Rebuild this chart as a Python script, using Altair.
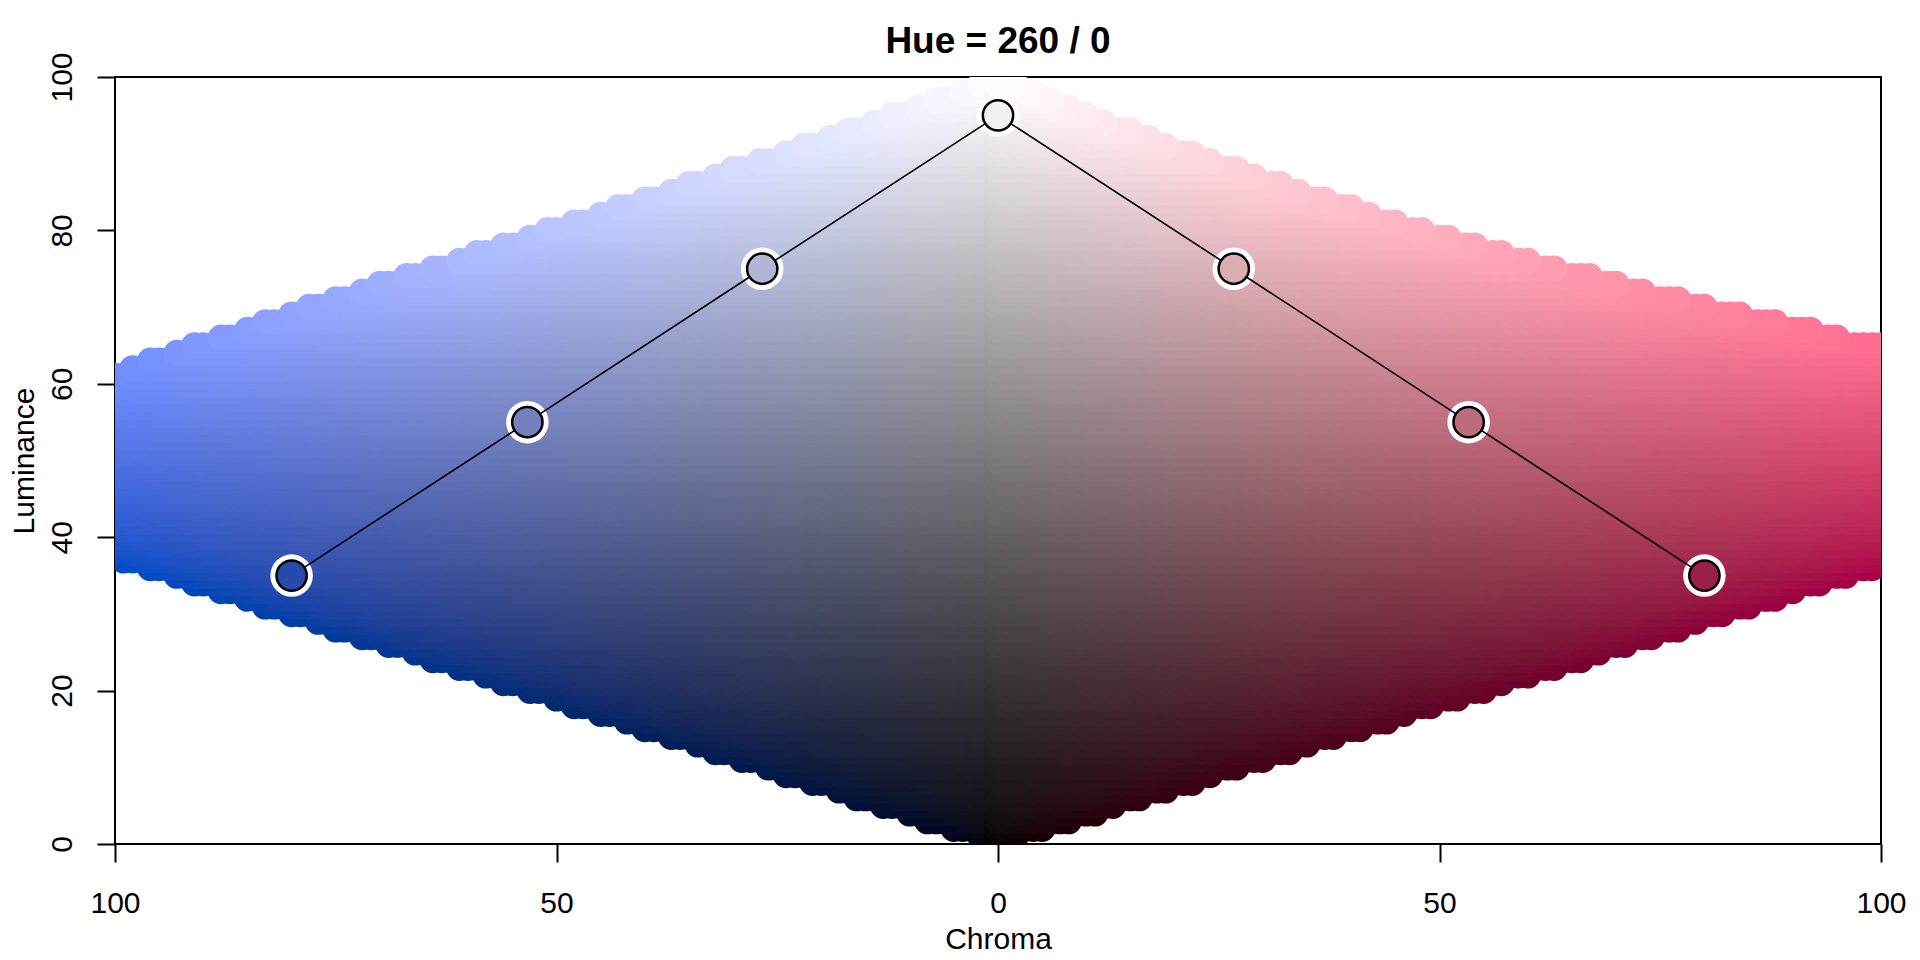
import numpy as np
import pandas as pd
import altair as alt

# ---------------- data ----------------
hues = [260, 0]                      # left hue, right hue
chroma_grid = np.arange(0, 101, 1.0)
lum_grid = np.arange(0, 101, 1.0)

point_chroma = [80, 53.3, 26.7, 0, 26.7, 53.3, 80]
point_lum = [35, 55, 75, 95, 75, 55, 35]
point_hue = [260, 260, 260, 260, 0, 0, 0]
point_side = [-1, -1, -1, 1, 1, 1, 1]

x_ticks = [-100, -50, 0, 50, 100]
y_ticks = [0, 20, 40, 60, 80, 100]
title_text = "Hue = 260 / 0"


# ---------------- HCL (polarLUV) -> sRGB ----------------
def hcl_to_rgb(L, C, H):
    L = np.asarray(L, float); C = np.asarray(C, float); H = np.asarray(H, float)
    Xn, Yn, Zn = 95.047, 100.0, 108.883
    h = np.deg2rad(H)
    U = C * np.cos(h)
    V = C * np.sin(h)
    Y = np.where(L > 7.999592, Yn * ((L + 16) / 116) ** 3, Yn * L / 903.3)
    t = Xn + Yn + Zn
    x = Xn / t
    y = Yn / t
    uN = 2 * x / (6 * y - x + 1.5)
    vN = 4.5 * y / (6 * y - x + 1.5)
    with np.errstate(divide="ignore", invalid="ignore"):
        u = U / (13 * L) + uN
        v = V / (13 * L) + vN
        X = 9.0 * Y * u / (4 * v)
        Z = -X / 3 - 5 * Y + 3 * Y / v
    X = np.where(L <= 0, 0.0, X)
    Z = np.where(L <= 0, 0.0, Z)
    R = (3.240479 * X - 1.537150 * Y - 0.498535 * Z) / Yn
    G = (-0.969256 * X + 1.875992 * Y + 0.041556 * Z) / Yn
    B = (0.055648 * X - 0.204043 * Y + 1.057311 * Z) / Yn
    rgb = np.stack([R, G, B], axis=-1)
    ok = np.all((rgb >= -1e-6) & (rgb <= 1 + 1e-6), axis=-1)
    ok = ok & ~((L <= 0) & (C > 0))
    rgb = np.clip(rgb, 0, 1)
    g = np.where(rgb <= 0.0031308, 12.92 * rgb, 1.055 * np.power(rgb, 1 / 2.4) - 0.055)
    return g, ok


def to_hex(g):
    v = np.clip(np.round(g * 255), 0, 255).astype(int)
    return ["#%02x%02x%02x" % tuple(r) for r in v.reshape(-1, 3)]


rows = []
for side, hue in zip([-1, 1], hues):
    LL, CC = np.meshgrid(lum_grid, chroma_grid, indexing="ij")  # C varies fastest
    LL = LL.ravel(); CC = CC.ravel()
    g, ok = hcl_to_rgb(LL, CC, np.full_like(LL, hue))
    cols = to_hex(g)
    for l, c, col, k in zip(LL, CC, cols, ok):
        if k:
            rows.append({"x": side * c, "L": l, "col": col})
bg = pd.DataFrame(rows)

pg, _ = hcl_to_rgb(point_lum, point_chroma, point_hue)
pts = pd.DataFrame({
    "x": [s * c for s, c in zip(point_side, point_chroma)],
    "L": point_lum,
    "col": to_hex(pg),
    "i": list(range(len(point_lum))),
})

W, H = 1766, 767
FONT = "Liberation Sans"

xs = alt.Scale(domain=[-100, 100], nice=False, zero=False)
ys = alt.Scale(domain=[0, 100], nice=False, zero=False)

xaxis = alt.Axis(values=x_ticks, labelExpr="'' + abs(datum.value)", title="Chroma",
                 labelFlush=False, labelOverlap=False, grid=False, domain=False,
                 tickSize=18, tickWidth=2, tickColor="black",
                 labelFontSize=30, labelFont=FONT, labelColor="black",
                 labelBaseline="alphabetic", labelPadding=50,
                 titleFontSize=30, titleFont=FONT, titleFontWeight="normal", titleColor="black",
                 titleBaseline="alphabetic", titleY=104, titleX=W / 2, titleAlign="center")
yaxis = alt.Axis(values=y_ticks, title="Luminance",
                 labelFlush=False, labelOverlap=False, grid=False, domain=False,
                 tickSize=18, tickWidth=2, tickColor="black",
                 labelFontSize=30, labelFont=FONT, labelColor="black",
                 labelAngle=270, labelAlign="center", labelBaseline="alphabetic", labelPadding=26,
                 titleFontSize=30, titleFont=FONT, titleFontWeight="normal", titleColor="black",
                 titleAngle=270, titleBaseline="alphabetic", titleAlign="center",
                 titleX=-82, titleY=H / 2)

background = alt.Chart(bg).mark_circle(size=707, opacity=1, clip=True).encode(
    x=alt.X("x:Q", scale=xs, axis=xaxis),
    y=alt.Y("L:Q", scale=ys, axis=yaxis),
    color=alt.Color("col:N", scale=None),
)

halo = alt.Chart(pts).mark_circle(size=1810, color="white", opacity=1).encode(
    x=alt.X("x:Q", scale=xs), y=alt.Y("L:Q", scale=ys))

line = alt.Chart(pts).mark_line(color="black", strokeWidth=1.6).encode(
    x=alt.X("x:Q", scale=xs), y=alt.Y("L:Q", scale=ys), order="i:Q")

dots = alt.Chart(pts).mark_point(shape="circle", size=918, filled=True, opacity=1,
                                  stroke="black", strokeWidth=2.5).encode(
    x=alt.X("x:Q", scale=xs), y=alt.Y("L:Q", scale=ys),
    fill=alt.Fill("col:N", scale=None))

title = alt.Chart(pd.DataFrame({"t": [title_text]})).mark_text(
    font=FONT, fontSize=37, fontWeight="bold", color="black",
    align="center", baseline="alphabetic").encode(
    text="t:N", x=alt.value(W / 2), y=alt.value(-24))

chart = alt.layer(background, halo, line, dots, title).properties(
    width=W, height=H,
    background="white",
    autosize=alt.AutoSizeParams(type="none"),
    padding={"left": 107, "top": 69, "right": 31, "bottom": 113},
).configure_view(stroke="black", strokeWidth=2)

chart.save("out.html", embed_options={"renderer": "svg", "actions": False})
